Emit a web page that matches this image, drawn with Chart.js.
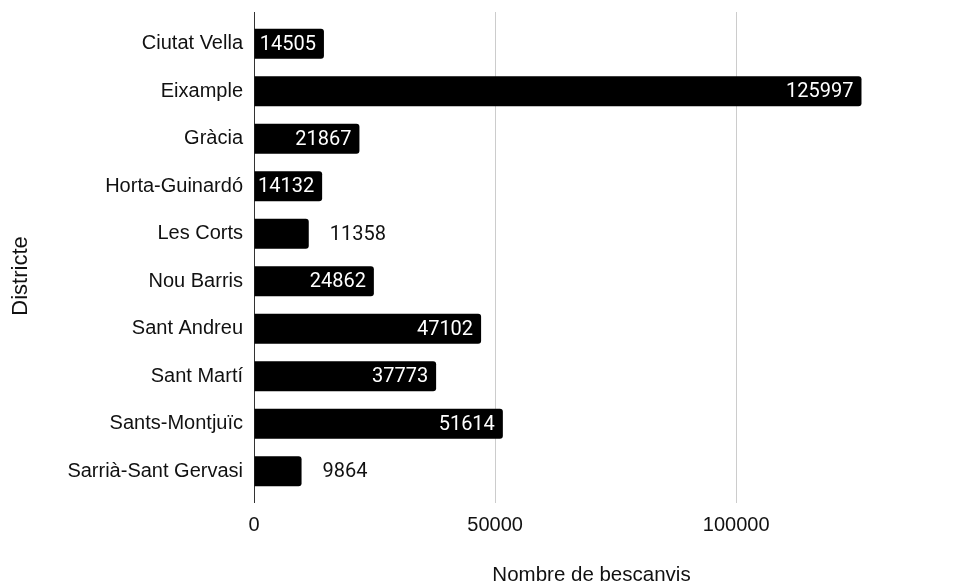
<!DOCTYPE html>
<html lang="ca">
<head>
  <meta charset="UTF-8">
  <title>Bescanvis per districte</title>
  <script src="https://cdn.jsdelivr.net/npm/chart.js"></script>
  <style>
    html, body { margin: 0; padding: 0; background: #fff; }
    #wrap { width: 965px; height: 585px; }
  </style>
</head>
<body>
  <div id="wrap"><canvas id="chart"></canvas></div>

  <script>
    // Dades
    const districtes = ['Ciutat Vella', 'Eixample', 'Gràcia', 'Horta-Guinardó', 'Les Corts',
      'Nou Barris', 'Sant Andreu', 'Sant Martí', 'Sants-Montjuïc', 'Sarrià-Sant Gervasi'];
    const bescanvis = [14505, 125997, 21867, 14132, 11358, 24862, 47102, 37773, 51614, 9864];
    const xTicks = [0, 50000, 100000];
    const xMax = 140000;
    const yTitle = 'Districte';
    const xTitle = 'Nombre de bescanvis';

    const textColor = '#111';
    const alignPx = (p) => Math.round(p - 0.5) + 0.5;

    // value labels: white inside the bar when it fits, dark outside otherwise
    const valueLabels = {
      id: 'valueLabels',
      afterDatasetsDraw(chart) {
        const ctx = chart.ctx;
        const meta = chart.getDatasetMeta(0);
        ctx.save();
        ctx.font = '20px Roboto';
        ctx.textBaseline = 'middle';
        meta.data.forEach((bar, i) => {
          const txt = String(bescanvis[i]);
          const w = ctx.measureText(txt).width;
          if (w + 10 <= bar.x - bar.base) {
            ctx.fillStyle = '#fff';
            ctx.textAlign = 'right';
            ctx.fillText(txt, bar.x - 8, bar.y + 1);
          } else {
            ctx.fillStyle = textColor;
            ctx.textAlign = 'left';
            ctx.fillText(txt, bar.x + 21, bar.y + 1);
          }
        });
        ctx.restore();
      }
    };

    // grid lines run a bit above the first category, plus the rotated y title
    const frame = {
      id: 'frame',
      beforeDatasetsDraw(chart) {
        const { ctx, chartArea, scales } = chart;
        ctx.save();
        ctx.lineWidth = 1;
        xTicks.forEach((v) => {
          const x = alignPx(scales.x.getPixelForValue(v));
          ctx.strokeStyle = v === 0 ? '#333' : '#ccc';
          ctx.beginPath();
          ctx.moveTo(x, chartArea.top - 8);
          ctx.lineTo(x, chartArea.top);
          ctx.stroke();
        });
        ctx.translate(21, 276);
        ctx.rotate(-Math.PI / 2);
        ctx.font = '22px "Liberation Sans"';
        ctx.fillStyle = textColor;
        ctx.textAlign = 'center';
        ctx.textBaseline = 'middle';
        ctx.fillText(yTitle, 0, 0);
        ctx.restore();
      }
    };

    new Chart(document.getElementById('chart'), {
      type: 'bar',
      data: {
        labels: districtes,
        datasets: [{
          data: bescanvis,
          backgroundColor: '#000',
          borderRadius: 3,
          categoryPercentage: 1,
          barPercentage: 0.63
        }]
      },
      options: {
        indexAxis: 'y',
        responsive: true,
        maintainAspectRatio: false,
        animation: false,
        layout: { padding: { top: 20, right: 36, bottom: 0, left: 0 } },
        plugins: {
          legend: { display: false },
          tooltip: { enabled: false }
        },
        scales: {
          x: {
            min: 0,
            max: xMax,
            afterBuildTicks: (s) => { s.ticks = xTicks.map((v) => ({ value: v })); },
            afterFit: (s) => { s.height = 90; },
            border: { display: false },
            grid: {
              color: (c) => (c.tick && c.tick.value === 0 ? '#333' : '#ccc'),
              drawTicks: true,
              tickLength: 8
            },
            ticks: {
              callback: (v) => String(v),
              color: textColor,
              padding: 10,
              maxRotation: 0,
              font: { family: '"Liberation Sans", Arial, sans-serif', size: 20 }
            },
            title: {
              display: true,
              text: xTitle,
              color: textColor,
              padding: { top: 0, bottom: 0 },
              font: { family: '"Liberation Sans", Arial, sans-serif', size: 20.5, lineHeight: 0.9 }
            }
          },
          y: {
            afterFit: (s) => { s.width = 254; },
            border: { display: false },
            grid: { display: false },
            ticks: {
              color: textColor,
              padding: 3,
              font: { family: '"Liberation Sans", Arial, sans-serif', size: 20 }
            }
          }
        }
      },
      plugins: [frame, valueLabels]
    });
  </script>
</body>
</html>
